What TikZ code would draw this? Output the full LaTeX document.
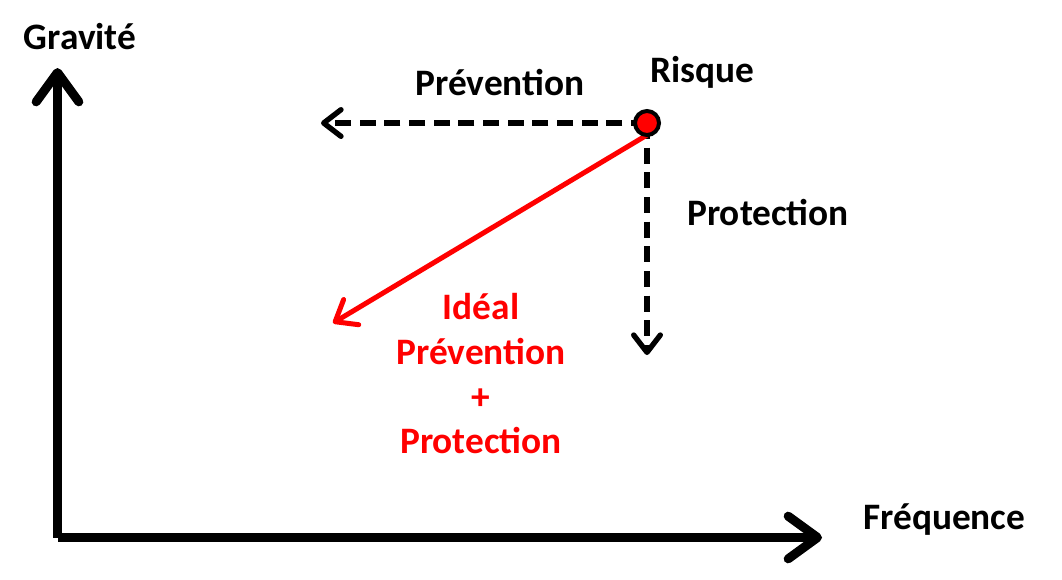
\documentclass[tikz,border=0pt]{standalone}
\usepackage{fontspec}
\setmainfont{Carlito}
\usetikzlibrary{arrows.meta}

\begin{document}
\begin{tikzpicture}[x=0.75pt, y=-0.75pt,
    axis/.style={line width=6.75pt, line join=round,
        -{Straight Barb[length=22pt, width=32pt, line width=6.75pt, round]}},
    action/.style={line width=5pt, dash pattern=on 12pt off 6.5pt,
        -{Straight Barb[length=13pt, width=20pt, line width=4pt, round]}},
    ideal/.style={line width=3.75pt, red,
        -{Straight Barb[length=14pt, width=22pt, line width=3.75pt, round]}},
    label/.style={font=\bfseries\fontsize{28}{33}\selectfont, inner sep=0pt}]

\useasboundingbox (0,0) rectangle (1062,579);

\coordinate (O) at (57.5,537.5);
\coordinate (Ytip) at (57.5,68);
\coordinate (Xtip) at (822,537.5);
\coordinate (R) at (647,123);
\coordinate (Pleft) at (321,123);
\coordinate (Pdown) at (647,355);
\coordinate (Ibegin) at (647,135);
\coordinate (Iend) at (333,323);

% axes
\draw[axis] (O) -- (Ytip);
\draw[axis] (O) -- (Xtip);
\node[label] (gravite) at (80,37) {Gravité};
\node[label, anchor=west] (frequence) at (863,520) {Fréquence};

% prevention and protection
\draw[action] (R) -- (Pleft);
\draw[action] (R) -- (Pdown);
\node[label] (prevention) at (500,83) {Prévention};
\node[label, anchor=west] (protection) at (687,213) {Protection};

% ideal path
\draw[ideal] (Ibegin) -- (Iend);
\node[label, red, align=center, font=\bfseries\fontsize{28}{33.5}\selectfont]
    (idealtext) at (481,374) {Idéal\\Prévention\\+\\Protection};

% risk point
\draw[fill=red, line width=3pt] (R) circle (9pt);
\node[label] (risque) at (702,72) {Risque};

\end{tikzpicture}
\end{document}
